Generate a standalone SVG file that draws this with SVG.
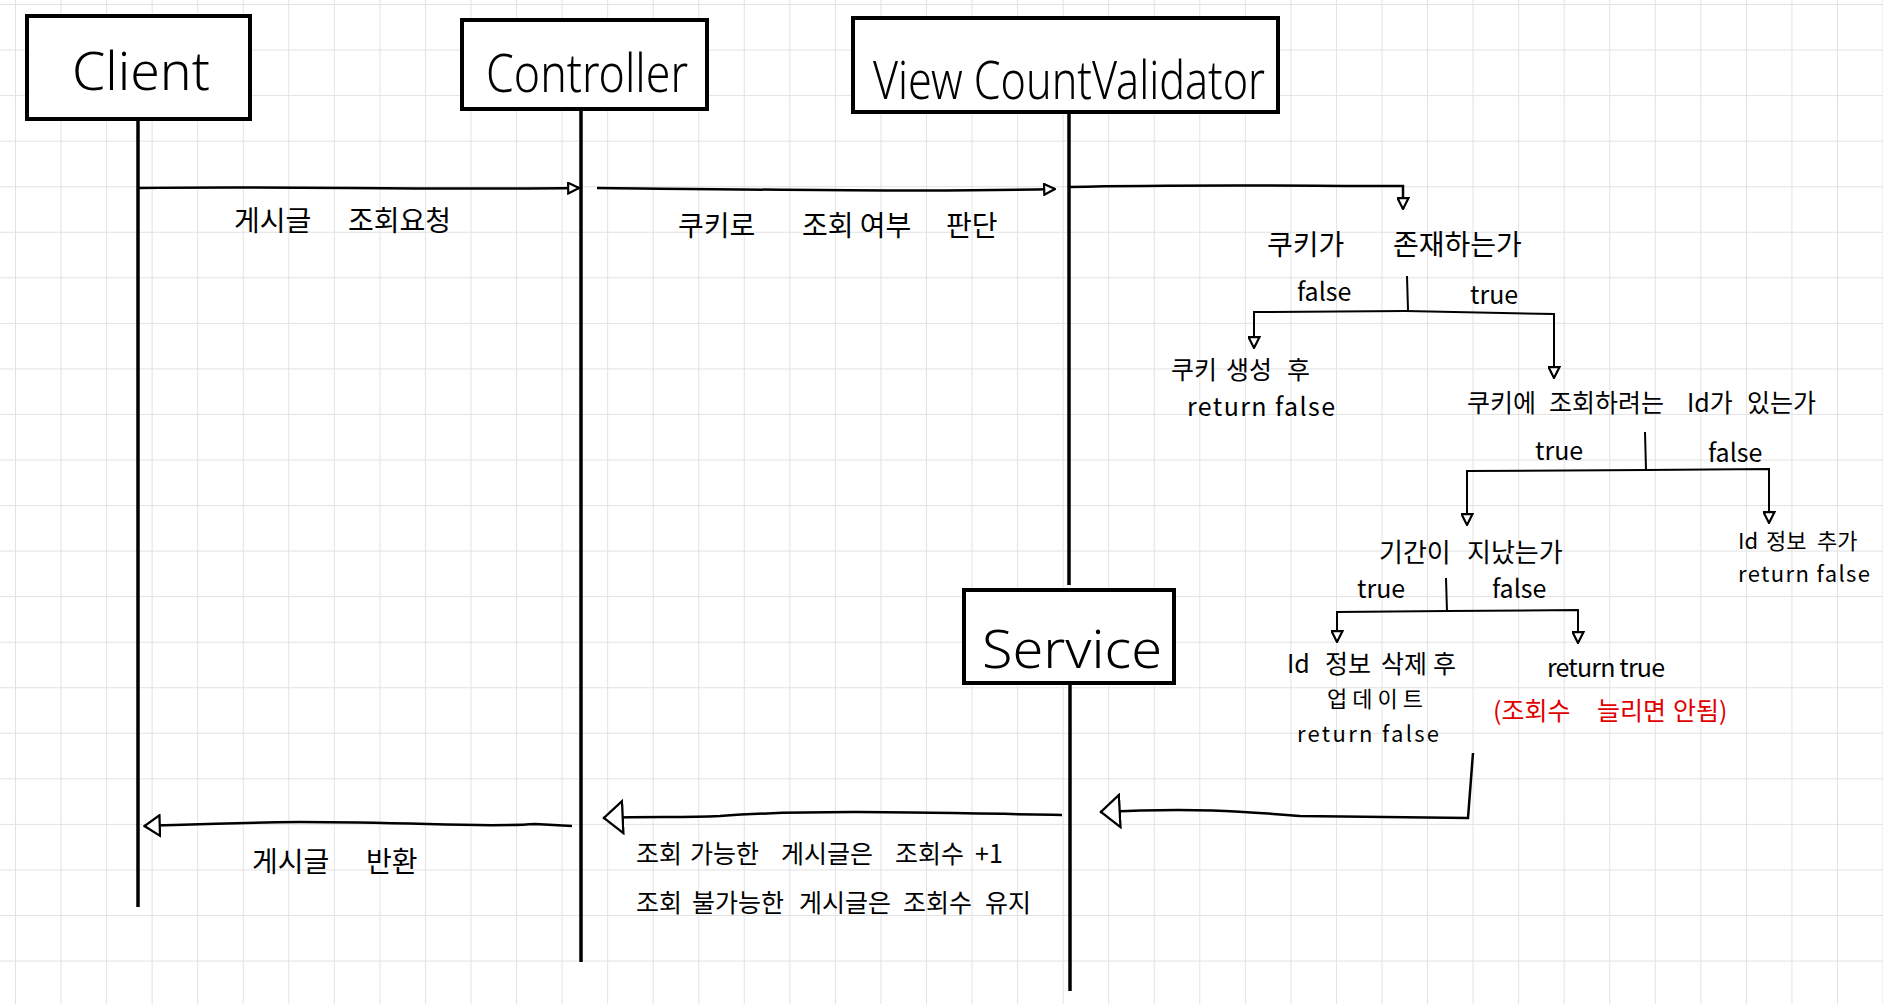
<svg xmlns="http://www.w3.org/2000/svg" width="1883" height="1004" viewBox="0 0 1883 1004">
<style>
.box{fill:#fff;stroke:#000;stroke-width:4}
.life{stroke:#000;stroke-width:3.5;fill:none}
.msg{stroke:#000;stroke-width:2.5;fill:none}
.br{stroke:#000;stroke-width:2;fill:none}
.t{font-family:"Noto Sans CJK KR","Noto Sans",sans-serif;font-size:25px;fill:#000}
.L{font-size:28px}
.M{font-size:26px}
.s{font-size:22px}
.red{fill:#e00000}
.title{font-family:"Noto Sans","Noto Sans CJK KR",sans-serif;font-size:54px;font-weight:300;fill:#000}
</style>
<defs>
<pattern id="grid" x="15" y="4" width="45.55" height="45.55" patternUnits="userSpaceOnUse">
<path d="M0,0 H45.55 M0,0 V45.55" stroke="#e2e2e2" stroke-width="2" fill="none"/>
</pattern>
<marker id="a" viewBox="0 0 12 12" refX="11" refY="6" markerWidth="13" markerHeight="13" markerUnits="userSpaceOnUse" orient="auto">
<path d="M1,1 L11,6 L1,11 Z" fill="#fff" stroke="#000" stroke-width="2"/>
</marker>
<marker id="ab" viewBox="0 0 24 38" refX="23" refY="19" markerWidth="22" markerHeight="36" markerUnits="userSpaceOnUse" orient="auto">
<path d="M1.5,1.5 L22,19 L1.5,36.5 Z" fill="#fff" stroke="#000" stroke-width="2.5"/>
</marker>
<marker id="am" viewBox="0 0 20 26" refX="19" refY="13" markerWidth="18" markerHeight="24" markerUnits="userSpaceOnUse" orient="auto">
<path d="M1.5,1.5 L18.5,13 L1.5,24.5 Z" fill="#fff" stroke="#000" stroke-width="2.5"/>
</marker>
</defs>
<rect width="1883" height="1004" fill="#fff"/>
<rect width="1883" height="1004" fill="url(#grid)"/>

<g id="lifelines">
<line class="life" x1="138" y1="115" x2="138" y2="907"/>
<line class="life" x1="581" y1="109" x2="581" y2="962"/>
<line class="life" x1="1069" y1="112" x2="1069" y2="585"/>
<line class="life" x1="1070" y1="683" x2="1070" y2="991"/>
</g>

<g id="client">
<rect class="box" x="27" y="16" width="223" height="103"/>
<text class="title" x="72" y="90" textLength="138" lengthAdjust="spacingAndGlyphs">Client</text>
</g>
<g id="controller">
<rect class="box" x="462" y="20" width="245" height="89"/>
<text class="title" x="486" y="92" textLength="202" lengthAdjust="spacingAndGlyphs">Controller</text>
</g>
<g id="viewcountvalidator">
<rect class="box" x="853" y="18" width="425" height="94"/>
<text class="title" x="873" y="99" textLength="392" lengthAdjust="spacingAndGlyphs">View CountValidator</text>
</g>
<g id="service">
<rect class="box" x="964" y="590" width="210" height="93"/>
<text class="title" x="982" y="668" textLength="180" lengthAdjust="spacingAndGlyphs">Service</text>
</g>

<g id="connectors">
<path class="msg" d="M138,188 C300,186 400,190 579,188" marker-end="url(#a)"/>
<path class="msg" d="M597,188 C800,190 950,192 1055,189" marker-end="url(#a)"/>
<path class="msg" d="M1069,187 C1200,184 1300,186 1403,186 L1403,209" marker-end="url(#a)"/>
<path class="br" d="M1407,276 L1408,310"/>
<path class="br" d="M1406,311 L1554,314 L1554,378" marker-end="url(#a)"/>
<path class="br" d="M1406,311 L1254,312 L1254,348" marker-end="url(#a)"/>
<path class="br" d="M1645,432 L1646,470"/>
<path class="br" d="M1646,470 L1769,469 L1769,523" marker-end="url(#a)"/>
<path class="br" d="M1646,470 L1467,471 L1467,525" marker-end="url(#a)"/>
<path class="br" d="M1446,578 L1447,612"/>
<path class="br" d="M1447,611 L1578,610 L1578,643" marker-end="url(#a)"/>
<path class="br" d="M1447,611 L1337,612 L1337,642" marker-end="url(#a)"/>
<path class="msg" d="M1473,753 L1468,818 L1300,816 C1250,812 1200,807 1100,812" marker-end="url(#ab)"/>
<path class="msg" d="M1062,815 C900,812 800,810 720,816 C680,818 650,816 603,818" marker-end="url(#ab)"/>
<path class="msg" d="M572,826 L535,824 C480,828 420,822 300,822 C220,823 180,825 144,826" marker-end="url(#am)"/>
</g>

<g id="labels">
<text class="t L" y="231"><tspan x="234">게시글</tspan> <tspan x="348">조회요청</tspan></text>
<text class="t L" y="236"><tspan x="678">쿠키로</tspan> <tspan x="802">조회 여부</tspan> <tspan x="946">판단</tspan></text>
<text class="t L" y="255"><tspan x="1267">쿠키가</tspan> <tspan x="1393">존재하는가</tspan></text>
<text class="t" x="1297" y="301">false</text>
<text class="t" x="1470" y="304">true</text>
<text class="t" y="379"><tspan x="1171">쿠키</tspan> <tspan x="1226">생성</tspan> <tspan x="1287">후</tspan></text>
<text class="t" x="1187" y="416" textLength="148" lengthAdjust="spacing">return false</text>
<text class="t" y="412"><tspan x="1467">쿠키에</tspan> <tspan x="1549">조회하려는</tspan> <tspan x="1687">Id가</tspan> <tspan x="1747">있는가</tspan></text>
<text class="t" x="1535" y="460">true</text>
<text class="t" x="1708" y="462">false</text>
<text class="t M" y="562"><tspan x="1379">기간이</tspan> <tspan x="1467">지났는가</tspan></text>
<text class="t s" y="549"><tspan x="1738">Id</tspan> <tspan x="1766">정보</tspan> <tspan x="1817">추가</tspan></text>
<text class="t s" x="1738" y="582" textLength="132" lengthAdjust="spacing">return false</text>
<text class="t" x="1357" y="598">true</text>
<text class="t" x="1492" y="598">false</text>
<text class="t" y="673"><tspan x="1287">Id</tspan> <tspan x="1325">정보</tspan> <tspan x="1381">삭제</tspan> <tspan x="1433">후</tspan></text>
<text class="t s" x="1327" y="707" textLength="96" lengthAdjust="spacing">업데이트</text>
<text class="t s" x="1297" y="742" textLength="142" lengthAdjust="spacing">return false</text>
<text class="t" x="1547" y="677" textLength="118" lengthAdjust="spacing">return true</text>
<text class="t red" y="720"><tspan x="1493">(조회수</tspan> <tspan x="1597">늘리면</tspan> <tspan x="1673">안됨)</tspan></text>
<text class="t L" y="872"><tspan x="252">게시글</tspan> <tspan x="366">반환</tspan></text>
<text class="t" y="863"><tspan x="636">조회</tspan> <tspan x="690">가능한</tspan> <tspan x="781">게시글은</tspan> <tspan x="895">조회수</tspan> <tspan x="975">+1</tspan></text>
<text class="t" y="912"><tspan x="636">조회</tspan> <tspan x="692">불가능한</tspan> <tspan x="799">게시글은</tspan> <tspan x="903">조회수</tspan> <tspan x="985">유지</tspan></text>
</g>
</svg>
